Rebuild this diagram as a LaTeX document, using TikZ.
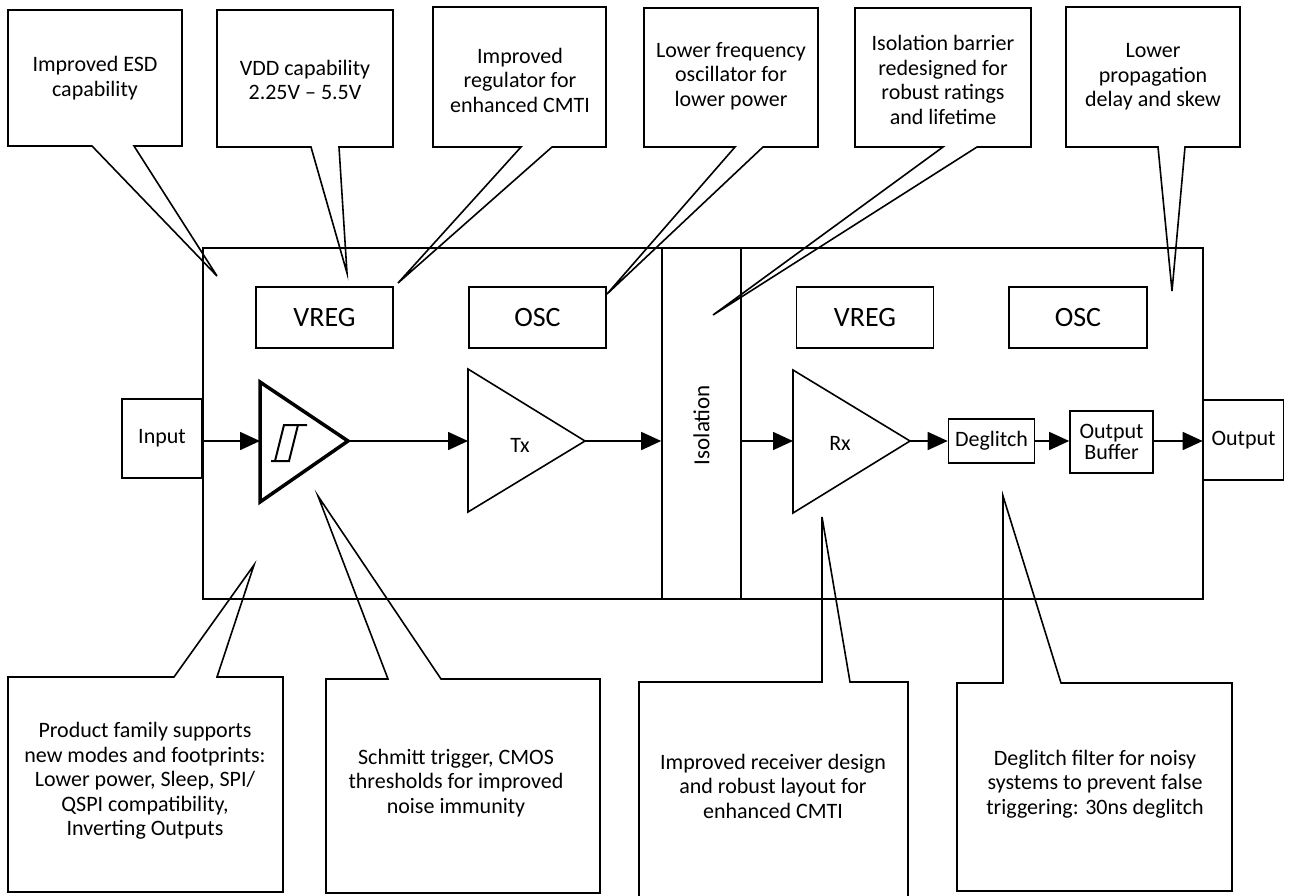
\documentclass[tikz,border=0pt]{standalone}
\usepackage{fontspec}
\setmainfont{Carlito}
\usetikzlibrary{arrows.meta}
\begin{document}
\begin{tikzpicture}[x=1pt,y=-1pt,line width=1.6pt,line join=miter,
  txt/.style={align=center,font=\fontsize{22}{24.5}\selectfont,inner sep=0pt},
  blk/.style={draw,line width=1.6pt,inner sep=0pt,align=center,font=\fontsize{22}{23}\selectfont},
  lbl/.style={inner sep=0pt,align=center,font=\fontsize{22}{23}\selectfont},
  big/.style={blk,font=\fontsize{28}{30}\selectfont,minimum width=137pt,minimum height=61pt},
  arr/.style={-{Triangle[length=20pt,width=18pt]}},
  callout/.style={draw,line width=1.6pt}]
\clip (0,0) rectangle (1289,895);
\fill[white] (0,0) rectangle (1289,895);
% chip and internal blocks
\node[blk,minimum width=1000pt,minimum height=351pt] (chip) at (703,423.5) {};
\node[blk,minimum width=79pt,minimum height=351pt] (iso) at (701.5,423.5) {};
\node[lbl,rotate=90,font=\fontsize{23}{25}\selectfont] (isotxt) at (701.5,425) {Isolation};
\node[big] (vreg1) at (324.5,317.5) {VREG};
\node[big] (osc1) at (537.5,317.5) {OSC};
\node[big] (vreg2) at (865,317.5) {VREG};
\node[big,minimum width=138pt] (osc2) at (1078,317.5) {OSC};
\node[blk,minimum width=80pt,minimum height=79pt] (input) at (162,438.5) {Input};
\node[blk,minimum width=86pt,minimum height=44pt] (degl) at (991.5,441) {Deglitch};
\node[blk,minimum width=83pt,minimum height=62pt] (obuf) at (1111.5,442) {Output\\[-2pt]Buffer};
\node[blk,minimum width=80pt,minimum height=80pt] (output) at (1243.5,440) {Output};
% Schmitt trigger
\coordinate (sin) at (260,441);
\coordinate (sa) at (348,441);
\draw[line width=3.5pt] (260,382) -- (348,441) -- (260,502) -- cycle;
\draw[line width=2pt] (271,461) -- (289,461) -- (298,425) -- (307,425);
\draw[line width=2pt] (275,461) -- (284,425) -- (298,425);
% Tx
\coordinate (txin) at (468,441);
\coordinate (txa) at (585,441);
\draw (468,369) -- (585,441) -- (468,512) -- cycle;
\node[lbl] (tx) at (520,445) {Tx};
% Rx
\coordinate (rxin) at (793,441);
\coordinate (rxa) at (910,441);
\draw (793,370) -- (910,441) -- (793,513) -- cycle;
\node[lbl] (rx) at (840,443) {Rx};
% signal path
\draw[arr] (input.east |- sin) -- (sin);
\draw[arr] (sa) -- (txin);
\draw[arr] (txa) -- (iso.west |- txa);
\draw[arr] (iso.east |- rxin) -- (rxin);
\draw[arr] (rxa) -- (degl.west |- rxa);
\draw[arr] (degl.east) -- (obuf.west |- degl.east);
\draw[arr] (obuf.east |- degl.east) -- (output.west |- degl.east);
% top callouts
\draw[callout] (8,10) -- (182,10) -- (182,146) -- (134,146) -- (217,276) -- (92,146) -- (8,146) -- cycle;
\node[txt] (c1) at (95,78) {Improved ESD\\capability};
\draw[callout] (217,10) -- (393,10) -- (393,147) -- (339,147) -- (347,273) -- (311,147) -- (217,147) -- cycle;
\node[txt] (c2) at (305,80) {VDD capability\\2.25V – 5.5V};
\draw[callout] (433,7) -- (606,7) -- (606,147) -- (552,147) -- (398,283) -- (521,147) -- (433,147) -- cycle;
\node[txt] (c3) at (520,80) {Improved\\regulator for\\enhanced CMTI};
\draw[callout] (644,8) -- (818,8) -- (818,147) -- (763,147) -- (607,294) -- (735,147) -- (644,147) -- cycle;
\node[txt] (c4) at (731,76) {Lower frequency\\oscillator for\\lower power};
\draw[callout] (855,8) -- (1031,8) -- (1031,147) -- (977,147) -- (713,315) -- (943,147) -- (855,147) -- cycle;
\node[txt] (c5) at (943,80) {Isolation barrier\\redesigned for\\robust ratings\\and lifetime};
\draw[callout] (1066,7) -- (1240,7) -- (1240,147) -- (1185,147) -- (1172,291) -- (1158,147) -- (1066,147) -- cycle;
\node[txt] (c6) at (1153,77) {Lower\\propagation\\delay and skew};
% bottom callouts
\draw[callout] (8,677) -- (174,677) -- (254,565) -- (217,677) -- (283,677) -- (283,892) -- (8,892) -- cycle;
\node[txt] (c7) at (145,781) {Product family supports\\new modes and footprints:\\Lower power, Sleep, SPI/\\QSPI compatibility,\\Inverting Outputs};
\draw[callout] (326,679) -- (388,679) -- (318,496) -- (441,679) -- (600,679) -- (600,893) -- (326,893) -- cycle;
\node[txt] (c8) at (456,783) {Schmitt trigger, CMOS\\thresholds for improved\\noise immunity};
\draw[callout] (639,910) -- (639,682) -- (822,682) -- (822,517) -- (850,682) -- (908,682) -- (908,910);
\node[txt] (c9) at (773,786) {Improved receiver design\\and robust layout for\\enhanced CMTI};
\draw[callout] (957,683) -- (1003,683) -- (1003,496) -- (1061,683) -- (1232,683) -- (1232,891) -- (957,891) -- cycle;
\node[txt] (c10) at (1095,784) {Deglitch filter for noisy\\systems to prevent false\\triggering: 30ns deglitch};
\end{tikzpicture}
\end{document}
